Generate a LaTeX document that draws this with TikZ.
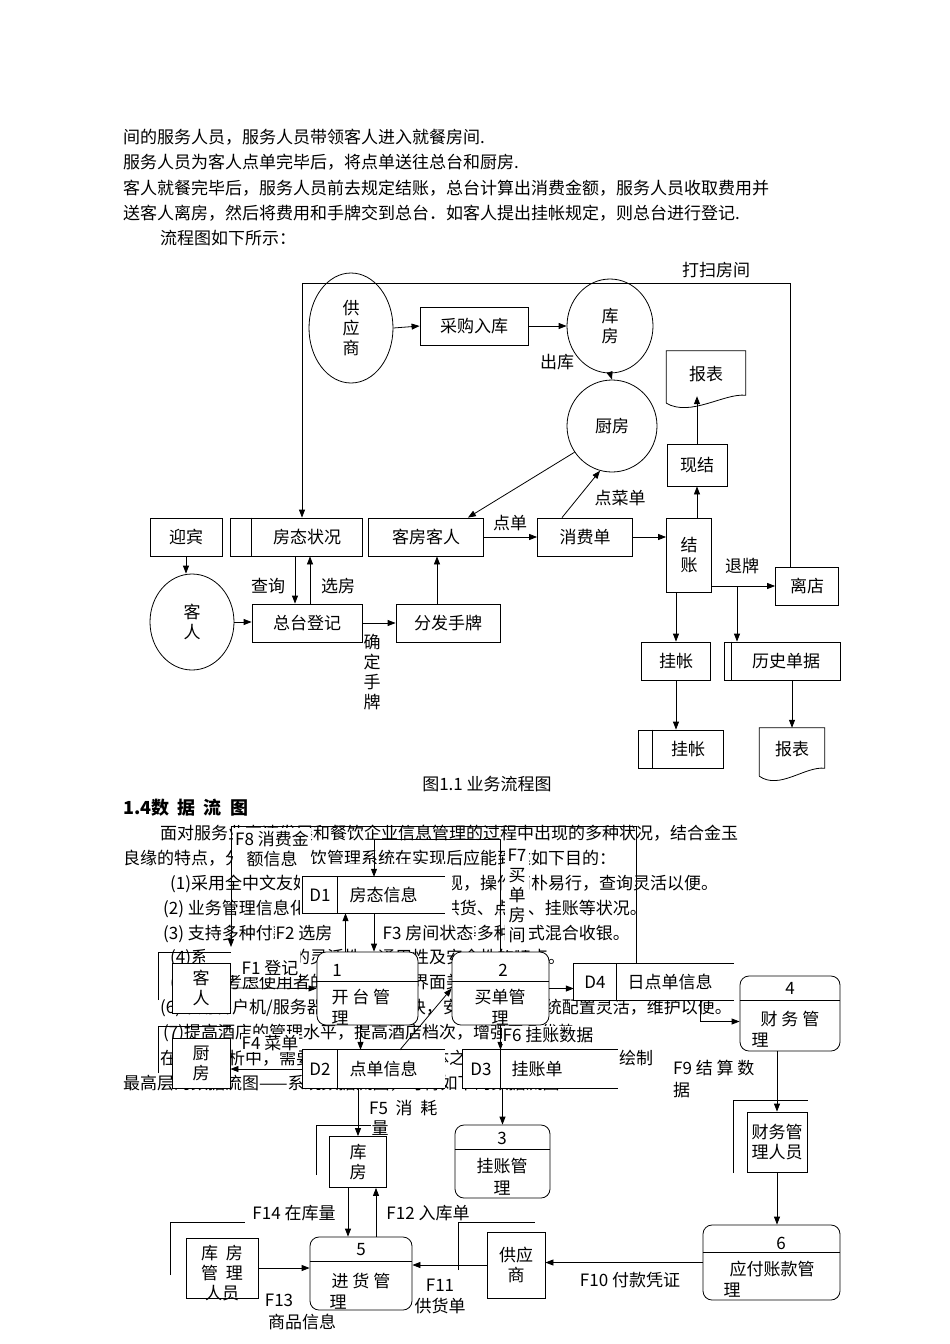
\documentclass[tikz,border=0pt]{standalone}
\usepackage{fontspec}
\setmainfont{Noto Sans CJK SC}
\usetikzlibrary{shapes.geometric,arrows.meta}
\tikzset{
  box/.style={draw,fill=white,inner sep=0pt,line width=0.8pt},
  ell/.style={draw,ellipse,fill=white,inner sep=0pt,line width=0.8pt,align=center},
  proc/.style={draw,fill=white,rounded corners=9pt,inner sep=0pt,line width=0.8pt},
  ent/.style={draw,fill=white,inner sep=0pt,line width=0.8pt,align=center},
  store/.style={fill=white,inner sep=0pt},
  lbl/.style={fill=white,inner sep=1pt,align=center},
  txt/.style={inner sep=0pt,anchor=west},
  ln/.style={line width=0.8pt},
  arr/.style={line width=0.8pt,-{Triangle[length=8pt,width=6pt]}},
}
\begin{document}
\begin{tikzpicture}[x=1pt,y=-1pt,font=\fontsize{17}{20}\selectfont]
\useasboundingbox[fill=white] (0,0) rectangle (950,1344);
% top paragraph
\node[txt] (t1) at (123,137) {间的服务人员，服务人员带领客人进入就餐房间.};
\node[txt] (t2) at (123,162) {服务人员为客人点单完毕后，将点单送往总台和厨房.};
\node[txt] (t3) at (123,188) {客人就餐完毕后，服务人员前去规定结账，总台计算出消费金额，服务人员收取费用并};
\node[txt] (t4) at (123,213) {送客人离房，然后将费用和手牌交到总台．如客人提出挂帐规定，则总台进行登记.};
\node[txt] (t5) at (160,238) {流程图如下所示：};
% ---------- business flow chart ----------
\node[ell,minimum width=84,minimum height=110] (gys) at (351,328) {供\\应\\商};
\node[box,minimum width=108,minimum height=38] (cgrk) at (474,326) {采购入库};
\node[ell,minimum width=86,minimum height=94] (kf) at (610,326) {库\\房};
\node[ell,minimum width=90,minimum height=92] (cf) at (612,426) {厨房};
\node[inner sep=0,minimum width=79,minimum height=54] (bb1) at (706,378) {};
\draw[ln] ([yshift=2]bb1.south west) -- (bb1.north west) -- (bb1.north east) -- ([yshift=10]bb1.south east) .. controls ([xshift=-22,yshift=12]bb1.south east) and ([xshift=24,yshift=-12]bb1.south west) .. ([yshift=2]bb1.south west);
\node at ([yshift=4]bb1.center) {报表};
\node[box,minimum width=60,minimum height=42] (xj) at (697,465) {现结};
\node[box,minimum width=72,minimum height=38] (yb) at (186,537) {迎宾};
\node[box,minimum width=132,minimum height=38] (ftzk) at (296,537) {\hspace{22pt}房态状况};
\draw[ln] ([xshift=22]ftzk.north west) -- ([xshift=22]ftzk.south west);
\node[box,minimum width=115,minimum height=38] (kfkr) at (426,537) {客房客人};
\node[box,minimum width=95,minimum height=38] (xfd) at (585,537) {消费单};
\node[box,minimum width=45,minimum height=74,align=center] (jz) at (689,555) {结\\账};
\node[box,minimum width=63,minimum height=38] (ld) at (807,586) {离店};
\node[ell,minimum width=84,minimum height=96] (kr) at (192,622) {客\\人};
\node[box,minimum width=110,minimum height=38] (ztdj) at (307,623) {总台登记};
\node[box,minimum width=104,minimum height=38] (ffsp) at (448,623) {分发手牌};
\node[box,minimum width=69,minimum height=38] (gz1) at (676,661) {挂帐};
\node[box,minimum width=116,minimum height=38] (lsdj) at (782,661) {\hspace{8pt}历史单据};
\draw[ln] ([xshift=8]lsdj.north west) -- ([xshift=8]lsdj.south west);
\node[box,minimum width=85,minimum height=38] (gz2) at (681,749) {\hspace{14pt}挂帐};
\draw[ln] ([xshift=14]gz2.north west) -- ([xshift=14]gz2.south west);
\node[inner sep=0,minimum width=65,minimum height=50] (bb2) at (792,753) {};
\draw[ln] ([yshift=2]bb2.south west) -- (bb2.north west) -- (bb2.north east) -- ([yshift=10]bb2.south east) .. controls ([xshift=-20,yshift=12]bb2.south east) and ([xshift=20,yshift=-12]bb2.south west) .. ([yshift=2]bb2.south west);
\node at ([yshift=4]bb2.center) {报表};
% arrows
\draw[arr] (gys.east) -- (cgrk.west);
\draw[arr] (cgrk.east) -- (kf.west);
\draw[arr] (kf.south) -- (cf.north);
\draw[arr] (cf.215) -- ([xshift=-16]kfkr.north east);
\draw[arr] ([xshift=-23]xfd.north) -- (cf.255);
\draw[arr] (kfkr.east) -- (xfd.west);
\draw[arr] (xfd.east) -- (xfd.east -| jz.west);
\draw[arr] (jz.north -| xj.south) -- (xj.south);
\draw[arr] (xj.north) -- ([yshift=9]xj.north |- bb1.south);
\draw[arr] (jz.east |- ld.west) -- (ld.west);
\coordinate (br) at (737,586);
\draw[arr] (br) -- (br |- lsdj.north);
\draw[arr] (jz.south -| gz1.north) -- (gz1.north);
\draw[arr] (gz1.south) -- (gz1.south |- gz2.north);
\draw[arr] (lsdj.south -| bb2.north) -- (bb2.north);
\coordinate (tr) at (790,283);
\coordinate (tl) at (302,283);
\draw[arr] (ld.north -| tr) -- (tr) -- (tl) -- (tl |- ftzk.north);
\draw[arr] (yb.south) -- (yb.south |- kr.north);
\draw[arr] (kr.east) -- (kr.east -| ztdj.west);
\draw[arr] ([xshift=-1]ftzk.south) -- ([xshift=-12]ztdj.north);
\draw[arr] ([xshift=3]ztdj.north) -- ([xshift=14]ftzk.south);
\draw[arr] (ztdj.east) -- (ffsp.west);
\draw[arr] ([xshift=-11]ffsp.north) -- ([xshift=11]kfkr.south);
% labels
\node (l1) at (716,270) {打扫房间};
\node (l2) at (557,362) {出库};
\node (l3) at (620,498) {点菜单};
\node (l4) at (510,523) {点单};
\node (l5) at (742,566) {退牌};
\node (l6) at (268,586) {查询};
\node (l7) at (338,586) {选房};
\node[align=center,inner sep=0] (l8) at (372,672) {确\\定\\手\\牌};
\node (cap) at (487,784) {图1.1 业务流程图};
% ---------- section 1.4 ----------
\node[txt,font=\fontsize{18}{20}\selectfont\bfseries] (h14) at (123,808) {1.4数\ \ 据\ \ 流\ \ 图};
\node[txt] (b1) at (160,833) {面对服务业高速发展和餐饮企业信息管理的过程中出现的多种状况，结合金玉};
\node[txt] (b2) at (123,858) {良缘的特点，分析后该餐饮管理系统在实现后应能到达如下目的：};
\node[txt] (b3) at (170,884) {(1)采用全中文友好界面，界面友好表现，操作简朴易行，查询灵活以便。};
\node[txt] (b4) at (163,909) {(2) 业务管理信息化，实时反映开台、供货、点单、挂账等状况。};
\node[txt] (b5) at (163,934) {(3) 支持多种付款方式，支持现金、挂账等多种方式混合收银。};
\node[txt] (b6) at (170,958) {(4)系统具有良好的灵活性、通用性及安全性的特点。};
\node[txt] (b7) at (170,983) {(5)充分考虑使用者的需求，同时界面美观大方。};
\node[txt] (b8) at (160,1008) {(6)采用客户机/服务器结构，响应快，安全性高，系统配置灵活，维护以便。};
\node[txt] (b9) at (163,1033) {(7)提高酒店的管理水平，提高酒店档次，增强竞争优势.};
\node[txt] (b10) at (160,1058) {在系统分析中，需要将系统与外部实体之间的联系画成网络。绘制};
\node[txt] (b11) at (123,1083) {最高层的数据流图——系统数据流图，可得如下的数据流图：};
% ---------- DFD ----------
% white covers
\fill[white] (300,864) rectangle (452,948);
\fill[white] (205,946) rectangle (300,975);
\node[lbl,minimum width=78,minimum height=42] (f8) at (272,849) {F8 消费金\\额信息};
\node[lbl,inner sep=0,minimum width=24,minimum height=108] (f7) at (517,896) {F7\\买\\单\\房\\间};
% entities
\draw[ln] (158,1000) -- (158,952) -- (231,952);
\node[ent,minimum width=58,minimum height=50] (ke) at (201,988) {客\\人};
\draw[ln] (158,1073) -- (158,1026) -- (231,1026);
\node[ent,minimum width=58,minimum height=50] (chu) at (201,1063) {厨\\房};
\draw[ln] (316,1175) -- (316,1125) -- (390,1125);
\node[ent,minimum width=57,minimum height=51] (kuf) at (358,1162) {库\\房};
\draw[ln] (170,1275) -- (170,1222) -- (245,1222);
\node[ent,minimum width=72,minimum height=60] (kgr) at (222,1268) {};
\node[inner sep=0,align=center] (kgrt) at (222,1273) {库\ \ 房\\管\ \ 理\\人员};
\draw[ln] (458,1270) -- (458,1222) -- (535,1222);
\node[ent,minimum width=58,minimum height=66] (gys2) at (516,1265) {供应\\商};
\draw[ln] (733,1173) -- (733,1100) -- (808,1100);
\node[ent,minimum width=60,minimum height=60] (cwr) at (777,1142) {财务管\\理人员};
% stores
\node[store,minimum width=142,minimum height=36] (d1) at (374,895) {};
\node[store,minimum width=142,minimum height=38] (d2) at (374,1069) {};
\node[store,minimum width=155,minimum height=38] (d3) at (540,1069) {};
\node[store,minimum width=160,minimum height=37] (d4) at (654,982) {};
\foreach \s/\w in {d1/35,d2/35,d3/38,d4/43}{
  \draw[ln] (\s.north east) -- (\s.north west) -- (\s.south west) -- (\s.south east);
  \draw[ln] ([xshift=\w]\s.north west) -- ([xshift=\w]\s.south west);
}
\node (d1a) at (320,895) {D1}; \node[anchor=west] (d1b) at (346,895) {房态信息};
\node (d2a) at (320,1069) {D2}; \node[anchor=west] (d2b) at (346,1069) {点单信息};
\node (d3a) at (481,1069) {D3}; \node[anchor=west] (d3b) at (508,1069) {挂账单};
\node (d4a) at (595,982) {D4}; \node[anchor=west] (d4b) at (624,982) {日点单信息};
% processes
\node[proc,minimum width=101,minimum height=73] (p1) at (367.5,988.5) {};
\draw[ln] ([yshift=-30]p1.north west) -- ([yshift=-30]p1.north east);
\node (p1a) at (337,970) {1};
\node[anchor=west] (p1b) at (328,997) {开\ 台\ 管};
\node[anchor=west] (p1c) at (328,1018) {理};
\node[proc,minimum width=97,minimum height=73] (p2) at (500.5,988.5) {};
\draw[ln] ([yshift=-30]p2.north west) -- ([yshift=-30]p2.north east);
\node (p2a) at (503,970) {2};
\node (p2b) at (500,997) {买单管};
\node (p2c) at (500,1018) {理};
\node[proc,minimum width=100,minimum height=75] (p4) at (790,1013.5) {};
\draw[ln] ([yshift=-25]p4.north west) -- ([yshift=-25]p4.north east);
\node (p4a) at (790,988) {4};
\node (p4b) at (790,1019) {财\ 务\ 管};
\node[anchor=west] (p4c) at (748,1040) {理};
\node[proc,minimum width=95,minimum height=73] (p3) at (502.5,1161.5) {};
\draw[ln] ([yshift=-25]p3.north west) -- ([yshift=-25]p3.north east);
\node (p3a) at (502,1138) {3};
\node (p3b) at (502,1166) {挂账管};
\node (p3c) at (502,1188) {理};
\node[proc,minimum width=102,minimum height=73] (p5) at (361,1273.5) {};
\draw[ln] ([yshift=-25]p5.north west) -- ([yshift=-25]p5.north east);
\node (p5a) at (361,1250) {5};
\node (p5b) at (361,1281) {进\ 货\ 管};
\node[anchor=west] (p5c) at (326,1302) {理};
\node[proc,minimum width=137,minimum height=75] (p6) at (771.5,1262.5) {};
\draw[ln] ([yshift=-28]p6.north west) -- ([yshift=-28]p6.north east);
\node (p6a) at (781,1243) {6};
\node (p6b) at (772,1269) {应付账款管};
\node[anchor=west] (p6c) at (720,1290) {理};
% flows
\draw[arr] (ke.east) -- (p1.west);
\draw[arr] ([xshift=-22]p1.north) -- ([xshift=-22]p1.north |- d1.south);
\draw[arr] (d1.south) -- (d1.south |- p1.north);
\coordinate (f7c) at (p2.north |- 0,839);
\draw[arr] (p2.north) -- (f7c) -| (d1.north);
\coordinate (f8a) at ([xshift=-18]d4.north |- 0,826);
\coordinate (f8b) at (231,826);
\coordinate (f8e) at (231,947);
\draw[arr] ([xshift=-18]d4.north) -- (f8a) -- (f8b) -- (f8e);
\draw[arr] (p2.east) -- (p2.east -| d4.west);
\draw[arr] ([xshift=46]d4.south) |- ([yshift=-8]p4.west);
\draw[arr] ([xshift=-7]p1.south) -- ([xshift=-7]p1.south |- d2.north);
\draw[arr] ([xshift=26]d2.north) -- (p2.west);
\draw[arr] (d2.west) -- (d2.west -| chu.east);
\draw[arr] (p2.south) -- (p2.south |- d3.north);
\draw[arr] (d3.south -| p3.north) -- (p3.north);
\draw[arr] (kuf.north |- d2.south) -- (kuf.north);
\draw[arr] (p4.south -| cwr.north) -- (cwr.north);
\draw[arr] (cwr.south) -- (cwr.south |- p6.north);
\draw[arr] (p6.west) -- (p6.west -| gys2.east);
\draw[arr] (gys2.west) -- (gys2.west -| p5.east);
\draw[arr] (kgr.east) -- (kgr.east -| p5.west);
\draw[arr] ([xshift=-10]kuf.south) -- ([xshift=-10]kuf.south |- p5.north);
\draw[arr] ([xshift=18]kuf.south |- p5.north) -- ([xshift=18]kuf.south);
% flow labels
\node[lbl] (f2) at (304,933) {F2 选房};
\node[lbl] (f3) at (428,933) {F3 房间状态};
\node[lbl] (f1) at (270,968) {F1 登记};
\node[lbl] (f4) at (270,1043) {F4 菜单};
\node[lbl] (f6) at (548,1035) {F6 挂账数据};
\node[lbl,anchor=west] (f9a) at (672,1068) {F9 结 算 数};
\node[lbl,anchor=west] (f9b) at (672,1090) {据};
\node[lbl,anchor=west] (f5a) at (368,1108) {F5\ \ 消\ \ 耗};
\node[lbl] (f5b) at (380,1128) {量};
\node[lbl] (f14) at (294,1213) {F14 在库量};
\node[lbl] (f12) at (428,1213) {F12 入库单};
\node[lbl] (f13a) at (279,1300) {F13};
\node[lbl] (f13b) at (302,1322) {商品信息};
\node[lbl] (f11a) at (440,1285) {F11};
\node[lbl] (f11b) at (440,1306) {供货单};
\node[lbl] (f10) at (630,1280) {F10 付款凭证};
\end{tikzpicture}
\end{document}
